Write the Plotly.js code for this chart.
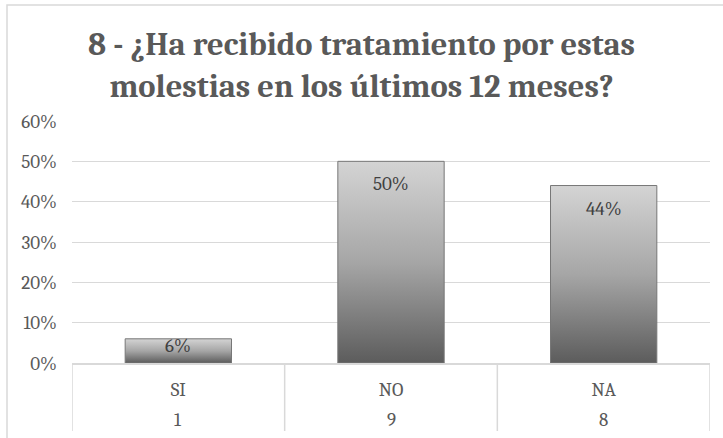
<!DOCTYPE html>
<html>
<head>
<meta charset="utf-8">
<script src="https://cdn.plot.ly/plotly-3.0.1.min.js"></script>
<style>
html,body{margin:0;padding:0;background:#fff;}
#chart{width:723px;height:438px;}
</style>
</head>
<body>
<div id="chart"></div>
<script>
// Data
const categories = ['SI', 'NO', 'NA'];
const counts = ['1', '9', '8'];
const percentages = [0.06, 0.50, 0.44];
const percentLabels = ['6%', '50%', '44%'];
const titleText = '8 - ¿Ha recibido tratamiento por estas<br>molestias en los últimos 12 meses?';

const FONT = "Cambria, Caladea, 'Liberation Serif', 'DejaVu Serif', serif";
const TXT = '#595959';
const GRID = '#d9d9d9';

// plot area geometry (pixels)
const PL = 72, PR = 710, PT = 121, PB = 363;
const PW = PR - PL, PH = PB - PT;

const trace = {
  type: 'bar',
  x: categories,
  y: percentages,
  marker: {color: '#9a9a9a', line: {color: '#777777', width: 1}},
  width: 0.5,
  hoverinfo: 'none'
};

const annotations = [];
categories.forEach((c, i) => {
  annotations.push({
    xref: 'x', yref: 'y', x: c, y: percentages[i],
    text: percentLabels[i], showarrow: false,
    xanchor: 'center', yanchor: 'top',
    yshift: percentages[i] > 0.1 ? -10 : 6,
    font: {family: FONT, size: 19, color: '#404040'}
  });
  annotations.push({
    xref: 'x', yref: 'paper', x: c, y: (PB - 420) / PH,
    text: counts[i], showarrow: false,
    xanchor: 'center', yanchor: 'middle',
    font: {family: FONT, size: 19, color: TXT}
  });
});

const shapes = [{
  type: 'rect', xref: 'paper', yref: 'paper',
  x0: (7 - PL) / PW, x1: (1200 - PL) / PW,
  y0: (PB - 900) / PH, y1: (PB - 5) / PH,
  line: {color: GRID, width: 1.5}, fillcolor: 'rgba(0,0,0,0)', layer: 'below'
}];
for (let i = 0; i <= categories.length; i++) {
  shapes.push({
    type: 'line', xref: 'x', yref: 'paper',
    x0: i - 0.5, x1: i - 0.5, y0: 0, y1: (PB - 431) / PH,
    line: {color: GRID, width: 1.5}
  });
}

const layout = {
  width: 723, height: 438,
  margin: {l: PL, r: 723 - PR, t: PT, b: 438 - PB},
  paper_bgcolor: '#ffffff', plot_bgcolor: '#ffffff',
  showlegend: false,
  title: {
    text: '<b>' + titleText + '</b>',
    font: {family: FONT, size: 32.5, color: TXT},
    x: 0.5, xanchor: 'center', xref: 'container',
    y: 0.875, yanchor: 'middle', yref: 'container'
  },
  xaxis: {
    type: 'category', range: [-0.5, categories.length - 0.5],
    showline: true, linecolor: GRID, linewidth: 1.5,
    showgrid: false, zeroline: false,
    ticks: '', ticklabelstandoff: 9,
    tickfont: {family: FONT, size: 19, color: TXT}
  },
  yaxis: {
    range: [0, 0.6], dtick: 0.1, tick0: 0, tickformat: '.0%',
    showgrid: true, gridcolor: GRID, gridwidth: 1,
    zeroline: false, showline: false, ticks: '',
    ticklabelstandoff: 14,
    tickfont: {family: FONT, size: 19, color: TXT}
  },
  annotations: annotations,
  shapes: shapes
};

const gd = document.getElementById('chart');

function applyGradient() {
  const svg = gd.querySelector('svg.main-svg');
  if (!svg) return;
  const NS = 'http://www.w3.org/2000/svg';
  if (!document.getElementById('barGrad')) {
    let defs = svg.querySelector('defs');
    if (!defs) { defs = document.createElementNS(NS, 'defs'); svg.insertBefore(defs, svg.firstChild); }
    const g = document.createElementNS(NS, 'linearGradient');
    g.setAttribute('id', 'barGrad');
    g.setAttribute('x1', '0'); g.setAttribute('y1', '0');
    g.setAttribute('x2', '0'); g.setAttribute('y2', '1');
    [['0', '#d4d4d4'], ['0.5', '#a6a6a6'], ['1', '#5c5c5c']].forEach(([o, c]) => {
      const s = document.createElementNS(NS, 'stop');
      s.setAttribute('offset', o); s.setAttribute('stop-color', c);
      g.appendChild(s);
    });
    defs.appendChild(g);
  }
  gd.querySelectorAll('.bars .point path').forEach(p => { p.style.fill = 'url(#barGrad)'; });
}

Plotly.newPlot(gd, [trace], layout, {staticPlot: true, displayModeBar: false}).then(() => {
  applyGradient();
  gd.on && gd.on('plotly_afterplot', applyGradient);
});
</script>
</body>
</html>
